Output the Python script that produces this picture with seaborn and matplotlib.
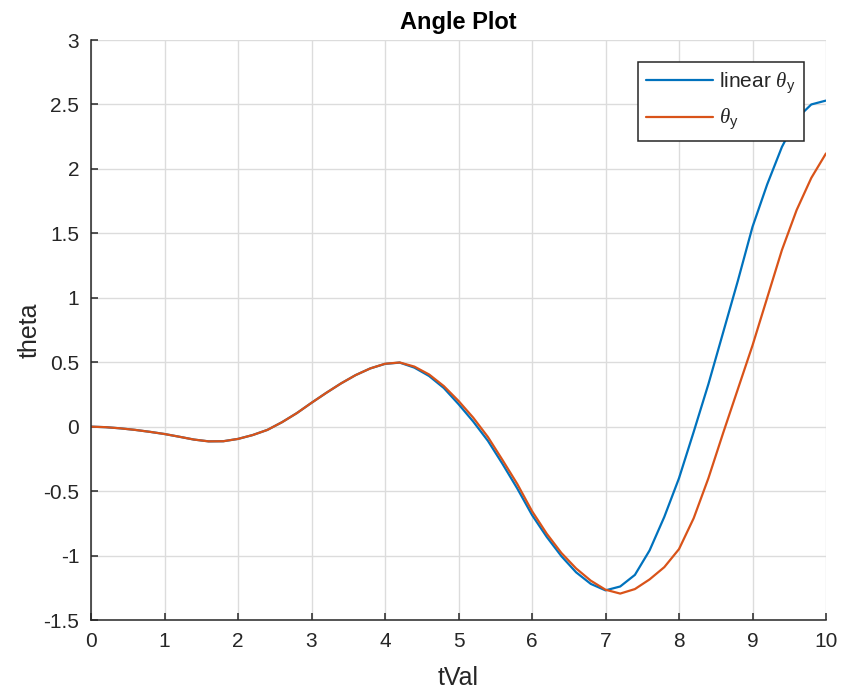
import numpy as np
import pandas as pd
import matplotlib
matplotlib.use("Agg")
import matplotlib.pyplot as plt
import seaborn as sns
from matplotlib.ticker import FormatStrFormatter

# ---- data ----
t_vals = [0.0, 0.2, 0.4, 0.6, 0.8, 1.0, 1.2, 1.4, 1.6, 1.8,
          2.0, 2.2, 2.4, 2.6, 2.8, 3.0, 3.2, 3.4, 3.6, 3.8,
          4.0, 4.2, 4.4, 4.6, 4.8, 5.0, 5.2, 5.4, 5.6, 5.8,
          6.0, 6.2, 6.4, 6.6, 6.8, 7.0, 7.2, 7.4, 7.6, 7.8,
          8.0, 8.2, 8.4, 8.6, 8.8, 9.0, 9.2, 9.4, 9.6, 9.8, 10.0]
linear_theta = [0.0, -0.004, -0.013, -0.025, -0.040, -0.057, -0.078, -0.100, -0.114, -0.113,
                -0.095, -0.065, -0.025, 0.035, 0.105, 0.185, 0.262, 0.335, 0.400, 0.452,
                0.487, 0.497, 0.458, 0.393, 0.300, 0.175, 0.040, -0.110, -0.290, -0.480,
                -0.685, -0.855, -1.005, -1.130, -1.220, -1.270, -1.240, -1.150, -0.960, -0.700,
                -0.400, -0.040, 0.330, 0.730, 1.130, 1.550, 1.880, 2.170, 2.390, 2.500, 2.530]
theta = [0.0, -0.004, -0.013, -0.025, -0.040, -0.057, -0.078, -0.100, -0.114, -0.113,
         -0.095, -0.065, -0.025, 0.035, 0.105, 0.185, 0.262, 0.335, 0.400, 0.452,
         0.488, 0.498, 0.466, 0.405, 0.315, 0.200, 0.070, -0.080, -0.260, -0.445,
         -0.655, -0.830, -0.980, -1.100, -1.195, -1.265, -1.295, -1.260, -1.185, -1.090,
         -0.950, -0.710, -0.400, -0.050, 0.290, 0.630, 1.000, 1.370, 1.680, 1.930, 2.120]
series_names = [r'linear $\theta_{\mathrm{y}}$', r'$\theta_{\mathrm{y}}$']
x_ticks = [0, 1, 2, 3, 4, 5, 6, 7, 8, 9, 10]
y_ticks = [-1.5, -1, -0.5, 0, 0.5, 1, 1.5, 2, 2.5, 3]

df = pd.DataFrame({
    "tVal": t_vals * 2,
    "theta": linear_theta + theta,
    "series": [series_names[0]] * len(t_vals) + [series_names[1]] * len(t_vals),
})

sns.set_style("white")
plt.rcParams["font.family"] = ["Liberation Sans", "DejaVu Sans"]
plt.rcParams["axes.unicode_minus"] = False
plt.rcParams["mathtext.fontset"] = "custom"
plt.rcParams["mathtext.rm"] = "Liberation Sans"
plt.rcParams["mathtext.it"] = "Liberation Serif:italic"

fig = plt.figure(figsize=(8.42, 6.91), dpi=100)
ax = fig.add_axes([91 / 842, 1 - 620 / 691, (826 - 91) / 842, (620 - 40) / 691])

sns.lineplot(data=df, x="tVal", y="theta", hue="series",
             palette=["#0072BD", "#D95319"], linewidth=1.6, ax=ax,
             sort=False, estimator=None)
for ln in ax.lines:
    ln.set_solid_joinstyle("round")

ax.set_xlim(0, 10)
ax.set_ylim(-1.5, 3)
ax.set_xticks(x_ticks)
ax.set_yticks(y_ticks)
ax.yaxis.set_major_formatter(FormatStrFormatter('%g'))
ax.grid(True, color="#dcdcdc", linewidth=1.0)
ax.set_axisbelow(True)

for s in ["top", "right"]:
    ax.spines[s].set_visible(False)
for s in ["left", "bottom"]:
    ax.spines[s].set_color("#262626")
    ax.spines[s].set_linewidth(1.1)

ax.tick_params(axis="both", direction="in", length=5, width=1.1, color="#262626",
               labelsize=15, labelcolor="#262626", pad=8.5, left=True, bottom=True)

ax.set_xlabel("tVal", fontsize=18, color="#262626", labelpad=11)
ax.set_ylabel("theta", fontsize=18, color="#262626", labelpad=1)
ax.set_title("Angle Plot", fontsize=17, fontweight="bold", color="black", pad=8)

leg = ax.legend(loc="upper right", bbox_to_anchor=((804 - 91) / 735, 1 - 22 / 580),
                fontsize=15, frameon=True, fancybox=False, handlelength=3.2,
                borderpad=0.4, labelspacing=0.55, handletextpad=0.3, borderaxespad=0)
leg.get_frame().set_edgecolor("#262626")
leg.get_frame().set_linewidth(1.1)
leg.get_frame().set_alpha(1)
leg.set_title(None)

fig.savefig("out.png", dpi=100)
